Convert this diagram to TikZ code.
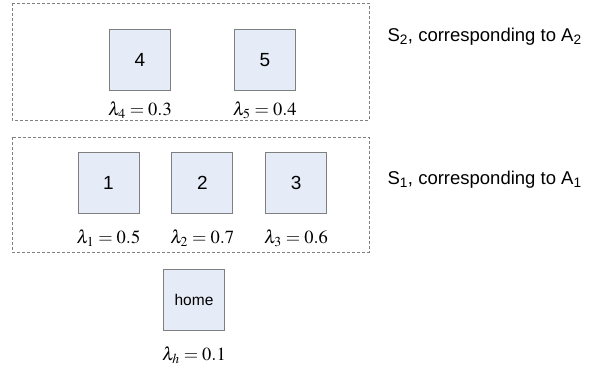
\documentclass[tikz,border=0pt]{standalone}
\usepackage{mathptmx}
\usepackage{fontspec}
\setmainfont{Liberation Sans}
\usetikzlibrary{positioning}
\definecolor{cellfill}{HTML}{E6ECF7}
\definecolor{cellline}{HTML}{7F7F7F}

\begin{document}
\begin{tikzpicture}[x=1pt, y=-1pt, node distance=32pt,
    cell/.style={draw=cellline, fill=cellfill, line width=0.8pt, minimum size=61pt, inner sep=0pt, font=\fontsize{19}{21}\selectfont},
    lam/.style={font=\fontsize{18.5}{21}\selectfont, inner sep=0pt},
    grp/.style={draw=gray, dashed, dash pattern=on 3pt off 2pt, line width=0.7pt},
    side/.style={anchor=west, font=\fontsize{18.5}{21}\selectfont}]
    \useasboundingbox (0,0) rectangle (609,370);
    % groups
    \draw[grp] (12,3) rectangle (369,120);
    \draw[grp] (12,137) rectangle (369,252);
    % S2 row
    \node[cell] (n4) at (140,60) {4};
    \node[cell, right=63pt of n4] (n5) {5};
    \node[lam, below=11pt of n4] (l4) {$\lambda_4 = 0.3$};
    \node[lam, below=11pt of n5] (l5) {$\lambda_5 = 0.4$};
    % S1 row
    \node[cell] (n1) at (108.5,183) {1};
    \node[cell, right=of n1] (n2) {2};
    \node[cell, right=of n2] (n3) {3};
    \node[lam, below=16pt of n1] (l1) {$\lambda_1 = 0.5$};
    \node[lam, below=16pt of n2] (l2) {$\lambda_2 = 0.7$};
    \node[lam, below=16pt of n3] (l3) {$\lambda_3 = 0.6$};
    % home
    \node[cell, font=\fontsize{15.5}{18}\selectfont] (home) at (194,300) {home};
    \node[lam, below=16pt of home] (lh) {$\lambda_h = 0.1$};
    % labels
    \node[side] (s2) at (384,37) {S\textsubscript{2}, corresponding to A\textsubscript{2}};
    \node[side] (s1) at (384,180) {S\textsubscript{1}, corresponding to A\textsubscript{1}};
\end{tikzpicture}
\end{document}
